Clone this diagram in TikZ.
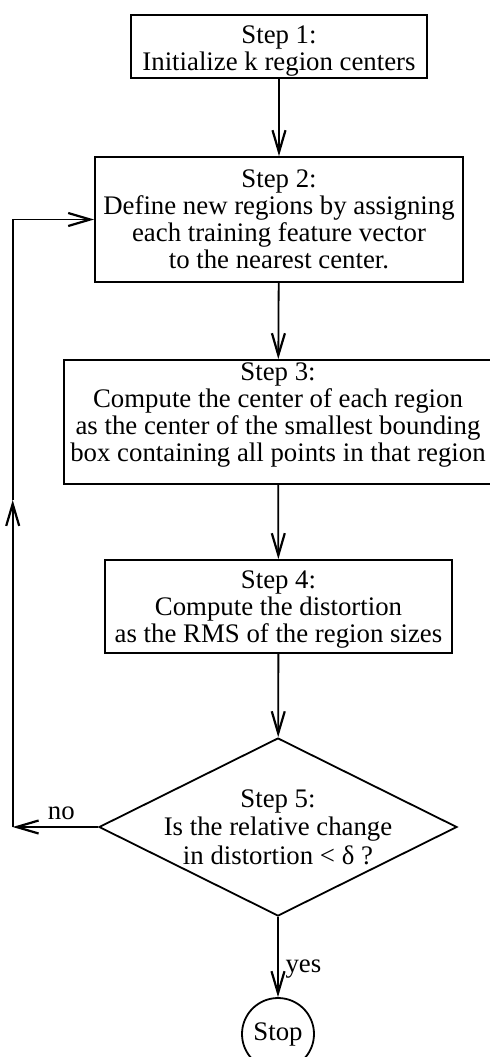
\documentclass[tikz,border=0pt]{standalone}
\usepackage{fontspec}
\setmainfont{Liberation Serif}
\usetikzlibrary{shapes.geometric,arrows.meta}
\begin{document}
\begin{tikzpicture}[x=0.5pt,y=-0.5pt,line width=0.9pt,
	>={Straight Barb[length=11pt,width=6.5pt,line width=1.1pt]},
	every node/.style={font=\fontsize{13.4}{13.5}\selectfont},
	stepbox/.style={draw,align=center,inner sep=0pt},
	decision/.style={draw,diamond,inner sep=0pt,minimum width=179pt,minimum height=89pt},
	stopnode/.style={draw,circle,inner sep=0pt,minimum size=36pt}]
				\useasboundingbox (0,0) rectangle (489,1057);
				\node[stepbox,minimum width=148pt,minimum height=31.5pt,text height=26.6pt] (S1) at (279,46.5) {Step 1:\\Initialize k region centers};
				\node[stepbox,minimum width=184pt,minimum height=62.5pt] (S2) at (279,219.5) {Step 2:\\Define new regions by assigning\\each training feature vector\\to the nearest center.};
				\node[stepbox,minimum width=214pt,minimum height=62pt,text depth=10pt] (S3) at (278,422) {Step 3:\\Compute the center of each region\\as the center of the smallest bounding\\box containing all points in that region};
				\node[stepbox,minimum width=173.5pt,minimum height=46.5pt,text height=38.9pt] (S4) at (278.5,606.5) {Step 4:\\Compute the distortion\\as the RMS of the region sizes};
				\node[decision] (S5) at (278,827) {};
				\node[align=center,inner sep=0pt,font=\fontsize{13.4}{14.25}\selectfont] (S5text) at (S5) {Step 5:\\Is the relative change\\in distortion < δ ?};
				\node[stopnode] (Stop) at (278,1034) {Stop};
				\coordinate (L) at (12.7,827);
				\coordinate (M) at (12.7,500);
				\coordinate (U) at (12.7,219.5);
				\draw[->] (S1) to (S2);
				\draw[->] (S2) to (S3);
				\draw[->] (S3) to (S4);
				\draw[->] (S4) to (S5);
				\draw[->] (S5.south) to node [right,pos=0.65] {yes} (Stop);
				\draw[->] (S5.west) to node [above,pos=0.43] {no} (L);
				\draw[->] (L) to (M);
				\draw[->] (M) -- (U) -- (S2.west);
\end{tikzpicture}
\end{document}
